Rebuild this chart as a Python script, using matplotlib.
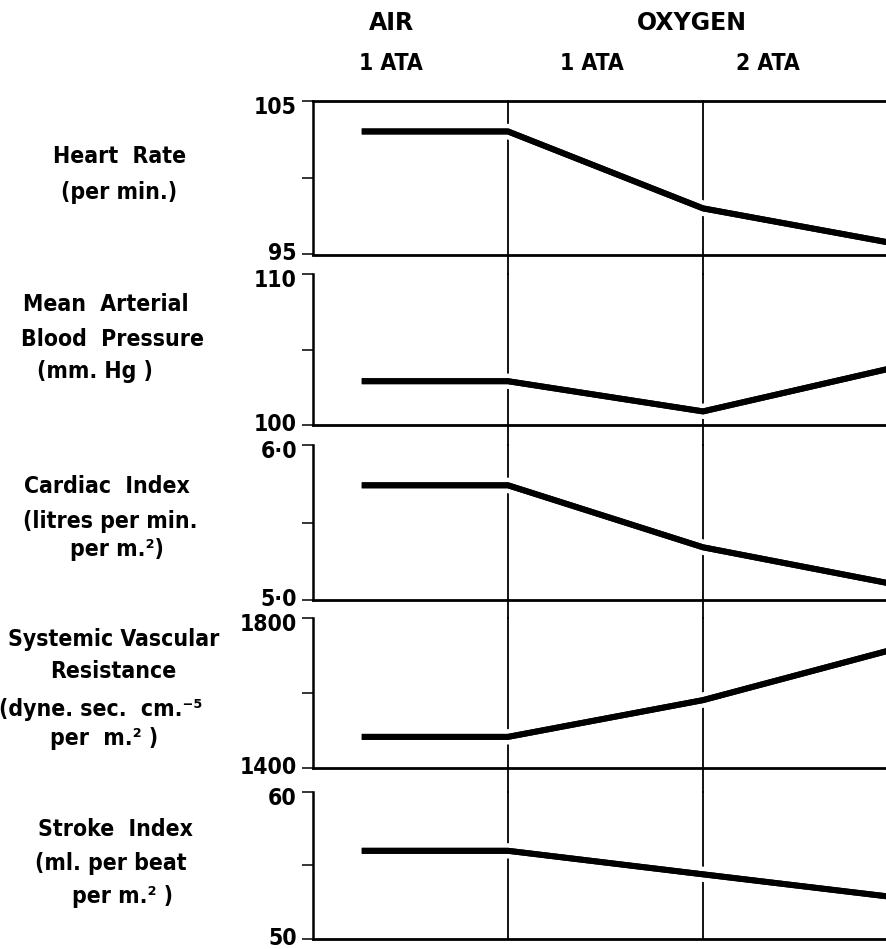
import matplotlib
matplotlib.use("Agg")
import matplotlib.pyplot as plt
import matplotlib.patheffects as pe
from matplotlib import transforms
from matplotlib import font_manager

W, H = 887, 949

# prefer a condensed face for the labels when one is installed
cond = font_manager.FontProperties(family='DejaVu Sans', stretch='condensed', weight='bold')
if 'Condensed' in font_manager.findfont(cond, fallback_to_default=False):
    LABEL = dict(family='DejaVu Sans', fontstretch='condensed', fontweight='bold')
    LABEL_SIZE = 16.5
else:
    LABEL = dict(family=['Liberation Sans', 'DejaVu Sans'], fontweight='bold')
    LABEL_SIZE = 17

# time axis: start of air reading, switch to O2 at 1 ATA, switch to 2 ATA, last reading
time_pts = [0.5, 2.0, 4.0, 5.89]
switch_pts = [2.0, 4.0]

heart_rate = [103.0, 103.0, 98.0, 95.8]
mean_bp = [102.9, 102.9, 100.9, 103.7]
cardiac_index = [5.74, 5.74, 5.34, 5.11]
vasc_resistance = [1483, 1483, 1581, 1712]
stroke_index = [56.0, 56.0, 54.4, 52.9]

series = [heart_rate, mean_bp, cardiac_index, vasc_resistance, stroke_index]
y_ranges = [(95, 105), (100, 110), (5.0, 6.0), (1400, 1800), (50, 60)]
y_labels = [("95", "105"), ("100", "110"), ("5·0", "6·0"), ("1400", "1800"), ("50", "60")]

panel_names = [
    ["Heart  Rate", "(per min.)"],
    ["Mean  Arterial", "Blood  Pressure", "(mm. Hg )"],
    ["Cardiac  Index", "(litres per min.", "per m.²)"],
    ["Systemic Vascular", "Resistance", "(dyne. sec.  cm.⁻⁵", "per  m.² )"],
    ["Stroke  Index", "(ml. per beat", "per m.² )"],
]
header_top = ["AIR", "OXYGEN"]
header_ata = ["1 ATA", "1 ATA", "2 ATA"]

# layout in pixels
panel_px = [(100.7, 254.5), (274, 425), (445, 600), (618, 768), (792, 939)]
name_px = [
    [(120, 155), (119, 191)],
    [(106, 303), (113, 338), (95, 370)],
    [(107, 485), (110, 520), (117, 548)],
    [(114, 638), (113, 670), (101, 708), (104, 737)],
    [(115, 828), (111, 862), (123, 895)],
]
top_px = [(391, 22), (692, 22)]
ata_px = [(391, 61), (592, 61), (768, 61)]
x_left = 313

fig = plt.figure(figsize=(W / 100, H / 100), dpi=100)


def fx(px):
    return px / W


def fy(px):
    return 1 - px / H


axes = []
for i, (top, bot) in enumerate(panel_px):
    ax = fig.add_axes([fx(x_left), fy(bot), 1 - fx(x_left), (bot - top) / H])
    ax.set_facecolor('none')
    lo, hi = y_ranges[i]
    ax.set_xlim(0, 5.887)
    ax.set_ylim(lo, hi)
    ax.set_xticks([])
    ax.set_yticks([lo, (lo + hi) / 2, hi])
    ax.set_yticklabels([])
    ax.tick_params(axis='y', length=8, width=1.1, direction='out')
    ax.spines['right'].set_visible(False)
    ax.spines['top'].set_visible(i == 0)
    ax.spines['top'].set_linewidth(2.0)
    ax.spines['left'].set_linewidth(1.8)
    ax.spines['bottom'].set_linewidth(2.0)

    # phase boundaries, carried down through the gap to the next panel
    if i < len(panel_px) - 1:
        gap = (panel_px[i + 1][0] - bot) / (bot - top)
    else:
        gap = 0
    for sx in switch_pts:
        ax.axvline(sx, ymin=-gap, ymax=1, color='black', lw=1.3,
                   clip_on=False, zorder=1)

    ax.plot(time_pts, series[i], color='black', lw=4.3,
            solid_capstyle='butt', solid_joinstyle='round', zorder=4,
            path_effects=[pe.withStroke(linewidth=11, foreground='white'),
                          pe.Normal()])

    # value labels at the bottom and top ticks
    ylab = transforms.blended_transform_factory(ax.transAxes, ax.transData)
    ax.text(-0.028, lo, y_labels[i][0], transform=transforms.offset_copy(
        ylab, fig=fig, y=-6, units='dots'), ha='right', va='baseline',
        fontsize=LABEL_SIZE, **LABEL)
    ax.text(-0.028, hi, y_labels[i][1], transform=transforms.offset_copy(
        ylab, fig=fig, y=-13, units='dots'), ha='right', va='baseline',
        fontsize=LABEL_SIZE, **LABEL)
    axes.append(ax)

for lines, pos in zip(panel_names, name_px):
    for txt, (px, py) in zip(lines, pos):
        fig.text(fx(px), fy(py + 8), txt, ha='center', va='baseline',
                 fontsize=LABEL_SIZE, **LABEL)

for txt, (px, py) in zip(header_top, top_px):
    fig.text(fx(px), fy(py + 8.5), txt, ha='center', va='baseline',
             fontsize=17, fontweight='bold', family='DejaVu Sans')
for txt, (px, py) in zip(header_ata, ata_px):
    fig.text(fx(px), fy(py + 8.5), txt, ha='center', va='baseline',
             fontsize=LABEL_SIZE, **LABEL)

fig.savefig('out.png', dpi=100, facecolor='white')
